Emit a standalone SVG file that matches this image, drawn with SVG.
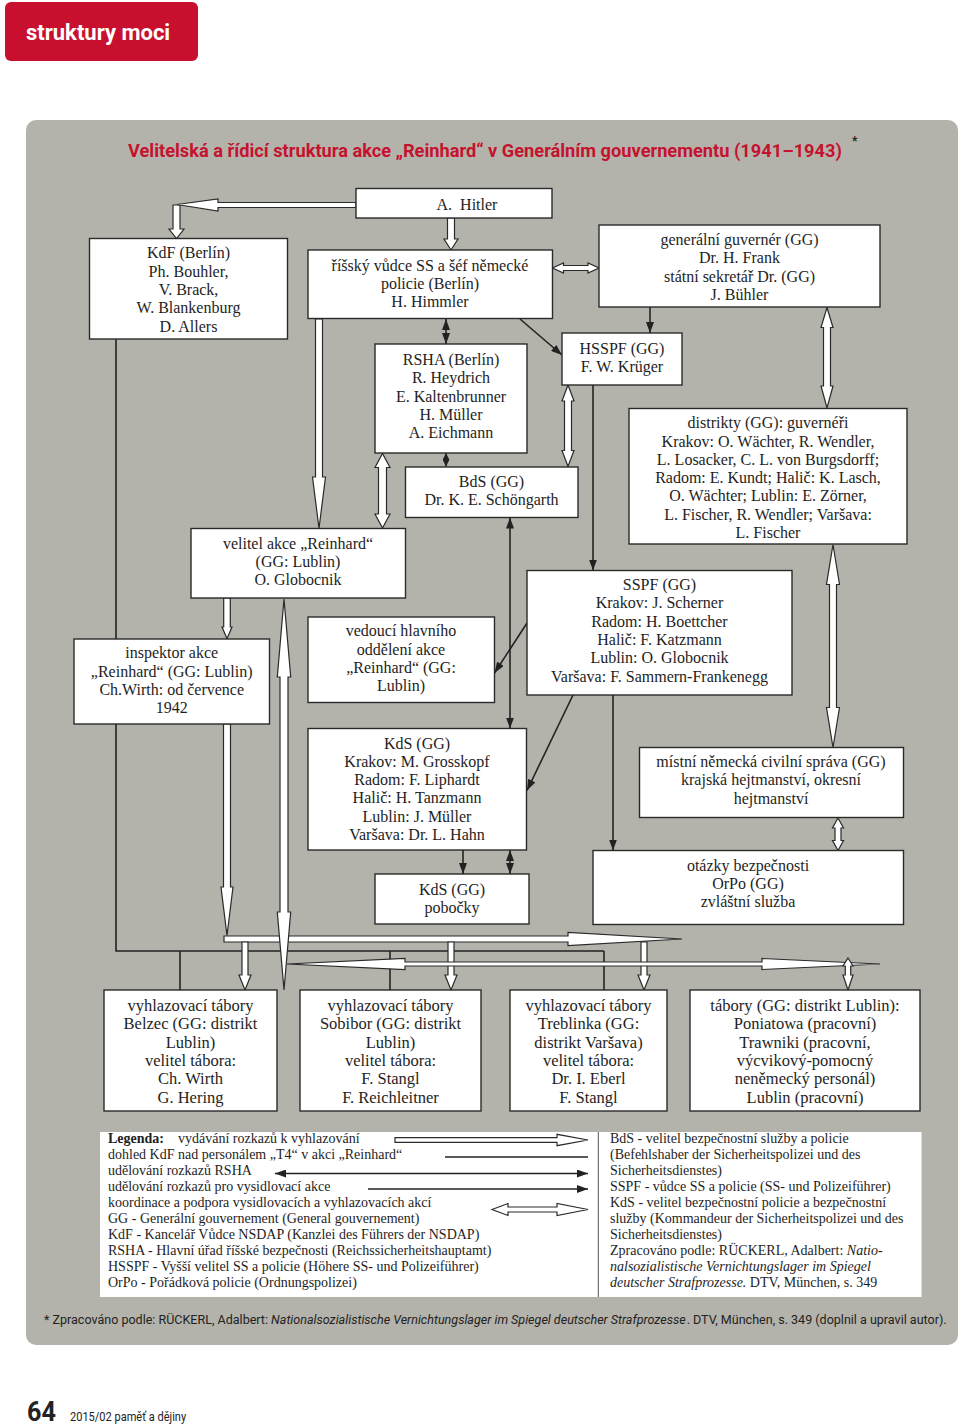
<svg xmlns="http://www.w3.org/2000/svg" width="960" height="1427" viewBox="0 0 960 1427">
<style>
.n rect{fill:#fff;stroke:#2a2a2a;stroke-width:1.4}
.t{font-family:"Liberation Serif","Times New Roman",serif;font-size:16px;fill:#1e1e1e;text-anchor:middle}
.c{font-family:"Liberation Serif","Times New Roman",serif;font-size:16.5px;fill:#1e1e1e;text-anchor:middle}
.g{font-family:"Liberation Serif","Times New Roman",serif;font-size:14px;fill:#1e1e1e}
.h{fill:#fff;stroke:#2a2a2a;stroke-width:1.2;stroke-linejoin:miter}
.l{stroke:#222;stroke-width:1.6;fill:none}
.s{font-family:Roboto,"Liberation Sans",sans-serif}
</style>
<defs>
<marker id="fa" viewBox="0 0 11 8" refX="11" refY="4" markerWidth="11" markerHeight="8" markerUnits="userSpaceOnUse" orient="auto-start-reverse"><path d="M0,0 L11,4 L0,8 z" fill="#222"/></marker>
<marker id="fs" viewBox="0 0 7 7" refX="7" refY="3.5" markerWidth="7" markerHeight="7" markerUnits="userSpaceOnUse" orient="auto-start-reverse"><path d="M0,0 L7,3.5 L0,7 z" fill="#222"/></marker>
</defs>
<rect width="960" height="1427" fill="#fff"/>
<rect x="5" y="2" width="193" height="59" rx="6" fill="#c8102e"/>
<text x="26" y="40" class="s" font-size="22" font-weight="700" fill="#fff">struktury moci</text>
<rect x="26" y="120" width="932" height="1225" rx="10" fill="#b4b3ab"/>
<text transform="translate(128,157) scale(0.96,1)" class="s" font-size="19" font-weight="700" fill="#c4122f">Velitelská a řídicí struktura akce „Reinhard“ v Generálním gouvernementu (1941–1943)</text>
<text x="852" y="145" class="s" font-size="12" font-weight="700" fill="#222">*</text>

<g id="connectors">
<polyline class="l" points="116,339 116,951 604,951"/>
<line class="l" x1="180" y1="951" x2="180" y2="990"/>
<line class="l" x1="390" y1="951" x2="390" y2="990"/>
<line class="l" x1="604" y1="951" x2="604" y2="990"/>
<line class="l" x1="446" y1="319" x2="446" y2="344" marker-start="url(#fa)" marker-end="url(#fa)"/>
<line class="l" x1="446" y1="453" x2="446" y2="466.5" marker-start="url(#fs)" marker-end="url(#fs)"/>
<line class="l" x1="520" y1="319" x2="562" y2="355" marker-end="url(#fa)"/>
<line class="l" x1="650" y1="307" x2="650" y2="333" marker-end="url(#fa)"/>
<line class="l" x1="593" y1="385" x2="593" y2="570.5" marker-end="url(#fa)"/>
<line class="l" x1="510" y1="517.5" x2="510" y2="728.5" marker-start="url(#fa)" marker-end="url(#fa)"/>
<line class="l" x1="463" y1="850" x2="463" y2="874" marker-end="url(#fa)"/>
<line class="l" x1="510" y1="850" x2="510" y2="874" marker-start="url(#fa)" marker-end="url(#fa)"/>
<line class="l" x1="527" y1="623" x2="494.5" y2="673" marker-end="url(#fa)"/>
<line class="l" x1="573" y1="695" x2="527" y2="790.5" marker-end="url(#fa)"/>
<line class="l" x1="613" y1="695" x2="613" y2="850.5" marker-end="url(#fa)"/>
<polygon class="h" points="173,205 180,205 180,229 184,229 176.5,238.5 169,229 173,229"/>
<polygon class="h" points="356,202.5 218,202.5 218,199 177,204.5 218,211 218,207.5 356,207.5"/>
<polygon class="h" points="447.5,218 454.5,218 454.5,239 458,239 451,250 444,239 447.5,239"/>
<polygon class="h" points="315.5,319 322.5,319 322.5,477 325.5,477 319,528.5 312.5,477 315.5,477"/>
<polygon class="h" points="382.5,453.5 390,467.5 386.5,467.5 386.5,514 390,514 382.5,528 375,514 378.5,514 378.5,467.5 375,467.5"/>
<polygon class="h" points="552.5,268 563.5,263 563.5,265.5 588,265.5 588,263 599,268 588,273 588,270.5 563.5,270.5 563.5,273"/>
<polygon class="h" points="827,307.5 833,327.5 830.5,327.5 830.5,386 833,386 827,408 821,386 823.5,386 823.5,327.5 821,327.5"/>
<polygon class="h" points="568,385 574,401 571.5,401 571.5,450.5 574,450.5 568,466.5 562,450.5 564.5,450.5 564.5,401 562,401"/>
<polygon class="h" points="833,544.5 839.5,584.5 836.5,584.5 836.5,707.5 839.5,707.5 833,747.5 826.5,707.5 829.5,707.5 829.5,584.5 826.5,584.5"/>
<polygon class="h" points="838,818 843.5,828 841,828 841,840.5 843.5,840.5 838,850.5 832.5,840.5 835,840.5 835,828 832.5,828"/>
<polygon class="h" points="223.7,598 230.3,598 230.3,627 232,627 227,638.5 222,627 223.7,627"/>
<polygon class="h" points="224,936 568,936 568,932.5 682,939 568,945.5 568,942 224,942"/>
<polygon class="h" points="223.5,724 230.5,724 230.5,887 233,887 227,935.5 221,887 223.5,887"/>
<polygon class="h" points="242,942 248,942 248,975 251,975 245,990 239,975 242,975"/>
<polygon class="h" points="448,942 454,942 454,975 457,975 451,990 445,975 448,975"/>
<polygon class="h" points="641,942 647,942 647,975 650,975 644,990 638,975 641,975"/>
<polygon class="h" points="284,599 290.7,677 288,677 288,912 290.7,912 284,990 277.3,912 280,912 280,677 277.3,677"/>
<polygon class="h" points="287,964 405,958.5 405,962 762,962 762,958.5 880,964 762,969.5 762,966 405,966 405,969.5"/>
<polygon class="h" points="848,958 853,966 850.7,966 850.7,975 853,975 848,990 843,975 845.3,975 845.3,966 843,966"/>
</g>

<g id="hitler" class="n"><rect x="356" y="188.5" width="196" height="29.5"/><text class="t" x="467" y="209.5">A.&#160; Hitler</text></g>
<g id="kdf" class="n"><rect x="89.5" y="238.5" width="198" height="100.5"/><text class="t" x="188.5" y="258.3">KdF (Berlín)</text><text class="t" x="188.5" y="276.7">Ph. Bouhler,</text><text class="t" x="188.5" y="295">V. Brack,</text><text class="t" x="188.5" y="313.3">W. Blankenburg</text><text class="t" x="188.5" y="331.7">D. Allers</text></g>
<g id="himmler" class="n"><rect x="308" y="250" width="244.5" height="68.5"/><text class="t" x="430" y="270.7">říšský vůdce SS a šéf německé</text><text class="t" x="430" y="289">policie (Berlín)</text><text class="t" x="430" y="307.3">H. Himmler</text></g>
<g id="gg" class="n"><rect x="599" y="225" width="281" height="82"/><text class="t" x="739.5" y="245">generální guvernér (GG)</text><text class="t" x="739.5" y="263.3">Dr. H. Frank</text><text class="t" x="739.5" y="281.7">státní sekretář Dr. (GG)</text><text class="t" x="739.5" y="299.7">J. Bühler</text></g>
<g id="rsha" class="n"><rect x="375" y="344" width="152" height="109"/><text class="t" x="451" y="365">RSHA (Berlín)</text><text class="t" x="451" y="383.3">R. Heydrich</text><text class="t" x="451" y="401.7">E. Kaltenbrunner</text><text class="t" x="451" y="420">H. Müller</text><text class="t" x="451" y="438">A. Eichmann</text></g>
<g id="hsspf" class="n"><rect x="562" y="333" width="120" height="52"/><text class="t" x="622" y="354">HSSPF (GG)</text><text class="t" x="622" y="372">F. W. Krüger</text></g>
<g id="bds" class="n"><rect x="405.5" y="467" width="172.5" height="50.5"/><text class="t" x="491.5" y="487">BdS (GG)</text><text class="t" x="491.5" y="505">Dr. K. E. Schöngarth</text></g>
<g id="distrikty" class="n"><rect x="629" y="408.5" width="278" height="135.5"/><text class="t" x="768" y="428.3">distrikty (GG): guvernéři</text><text class="t" x="768" y="446.7">Krakov: O. Wächter, R. Wendler,</text><text class="t" x="768" y="465">L. Losacker, C. L. von Burgsdorff;</text><text class="t" x="768" y="483.3">Radom: E. Kundt; Halič: K. Lasch,</text><text class="t" x="768" y="501.3">O. Wächter; Lublin: E. Zörner,</text><text class="t" x="768" y="519.5">L. Fischer, R. Wendler; Varšava:</text><text class="t" x="768" y="537.5">L. Fischer</text></g>
<g id="velitel" class="n"><rect x="191" y="528.5" width="214.5" height="69.5"/><text class="t" x="298" y="548.5">velitel akce „Reinhard“</text><text class="t" x="298" y="566.8">(GG: Lublin)</text><text class="t" x="298" y="585">O. Globocnik</text></g>
<g id="sspf" class="n"><rect x="527" y="570.5" width="265" height="124.5"/><text class="t" x="659.5" y="590">SSPF (GG)</text><text class="t" x="659.5" y="608.3">Krakov: J. Scherner</text><text class="t" x="659.5" y="626.7">Radom: H. Boettcher</text><text class="t" x="659.5" y="645">Halič: F. Katzmann</text><text class="t" x="659.5" y="663.3">Lublin: O. Globocnik</text><text class="t" x="659.5" y="681.7">Varšava: F. Sammern-Frankenegg</text></g>
<g id="inspektor" class="n"><rect x="74" y="639" width="195.5" height="85"/><text class="t" x="171.7" y="658.3">inspektor akce</text><text class="t" x="171.7" y="676.7">„Reinhard“ (GG: Lublin)</text><text class="t" x="171.7" y="695">Ch.Wirth: od července</text><text class="t" x="171.7" y="713">1942</text></g>
<g id="vedouci" class="n"><rect x="308" y="617" width="186.5" height="85.5"/><text class="t" x="401" y="636.3">vedoucí hlavního</text><text class="t" x="401" y="654.5">oddělení akce</text><text class="t" x="401" y="672.8">„Reinhard“ (GG:</text><text class="t" x="401" y="691">Lublin)</text></g>
<g id="kds" class="n"><rect x="308" y="728.5" width="218.5" height="121.5"/><text class="t" x="417" y="748.5">KdS (GG)</text><text class="t" x="417" y="766.8">Krakov: M. Grosskopf</text><text class="t" x="417" y="785">Radom: F. Liphardt</text><text class="t" x="417" y="803.3">Halič: H. Tanzmann</text><text class="t" x="417" y="821.7">Lublin: J. Müller</text><text class="t" x="417" y="840">Varšava: Dr. L. Hahn</text></g>
<g id="mistni" class="n"><rect x="639.5" y="747.5" width="264" height="70"/><text class="t" x="771" y="767">místní německá civilní správa (GG)</text><text class="t" x="771" y="785.2">krajská hejtmanství, okresní</text><text class="t" x="771" y="803.5">hejtmanství</text></g>
<g id="pobocky" class="n"><rect x="375" y="874" width="154" height="50"/><text class="t" x="452" y="895">KdS (GG)</text><text class="t" x="452" y="913.3">pobočky</text></g>
<g id="otazky" class="n"><rect x="593" y="850.5" width="310.5" height="74"/><text class="t" x="748" y="870.7">otázky bezpečnosti</text><text class="t" x="748" y="889">OrPo (GG)</text><text class="t" x="748" y="907">zvláštní služba</text></g>
<g id="belzec" class="n"><rect x="104" y="990" width="173" height="121"/><text class="c" x="190.5" y="1011">vyhlazovací tábory</text><text class="c" x="190.5" y="1029.3">Belzec (GG: distrikt</text><text class="c" x="190.5" y="1047.6">Lublin)</text><text class="c" x="190.5" y="1065.9">velitel tábora:</text><text class="c" x="190.5" y="1084.2">Ch. Wirth</text><text class="c" x="190.5" y="1102.5">G. Hering</text></g>
<g id="sobibor" class="n"><rect x="300" y="990" width="181" height="121"/><text class="c" x="390.5" y="1011">vyhlazovací tábory</text><text class="c" x="390.5" y="1029.3">Sobibor (GG: distrikt</text><text class="c" x="390.5" y="1047.6">Lublin)</text><text class="c" x="390.5" y="1065.9">velitel tábora:</text><text class="c" x="390.5" y="1084.2">F. Stangl</text><text class="c" x="390.5" y="1102.5">F. Reichleitner</text></g>
<g id="treblinka" class="n"><rect x="510" y="990" width="157" height="121"/><text class="c" x="588.5" y="1011">vyhlazovací tábory</text><text class="c" x="588.5" y="1029.3">Treblinka (GG:</text><text class="c" x="588.5" y="1047.6">distrikt Varšava)</text><text class="c" x="588.5" y="1065.9">velitel tábora:</text><text class="c" x="588.5" y="1084.2">Dr. I. Eberl</text><text class="c" x="588.5" y="1102.5">F. Stangl</text></g>
<g id="tabory" class="n"><rect x="690" y="990" width="230" height="121"/><text class="c" x="805" y="1011">tábory (GG: distrikt Lublin):</text><text class="c" x="805" y="1029.3">Poniatowa (pracovní)</text><text class="c" x="805" y="1047.6">Trawniki (pracovní,</text><text class="c" x="805" y="1065.9">výcvikový-pomocný</text><text class="c" x="805" y="1084.2">neněmecký personál)</text><text class="c" x="805" y="1102.5">Lublin (pracovní)</text></g>

<g id="legend">
<rect x="100" y="1132" width="821.5" height="165" fill="#fff"/>
<line x1="598.3" y1="1132" x2="598.3" y2="1297" stroke="#555" stroke-width="1"/>
<polygon class="h" points="395,1137.7 557,1137.7 557,1134.3 588,1140 557,1145.7 557,1142.3 395,1142.3"/>
<line class="l" x1="445" y1="1157" x2="588" y2="1157"/>
<line class="l" x1="275" y1="1173.5" x2="588" y2="1173.5" marker-start="url(#fa)" marker-end="url(#fa)"/>
<line class="l" x1="368" y1="1189" x2="588" y2="1189" marker-end="url(#fa)"/>
<polygon class="h" points="492,1209.5 508,1203.5 508,1207 557,1207 557,1203.5 588,1209.5 557,1215.5 557,1212 508,1212 508,1215.5"/>
<text class="g" x="108" y="1143.3" font-weight="700" font-size="15">Legenda:</text>
<text class="g" x="178" y="1143.3">vydávání rozkazů k vyhlazování</text>
<text class="g" x="108" y="1159.3">dohled KdF nad personálem „T4“ v akci „Reinhard“</text>
<text class="g" x="108" y="1175.2">udělování rozkazů RSHA</text>
<text class="g" x="108" y="1191">udělování rozkazů pro vysidlovací akce</text>
<text class="g" x="108" y="1207">koordinace a podpora vysidlovacích a vyhlazovacích akcí</text>
<text class="g" x="108" y="1223">GG - Generální gouvernement (General gouvernement)</text>
<text class="g" x="108" y="1238.7">KdF - Kancelář Vůdce NSDAP (Kanzlei des Führers der NSDAP)</text>
<text class="g" x="108" y="1254.5">RSHA - Hlavní úřad říšské bezpečnosti (Reichssicherheitshauptamt)</text>
<text class="g" x="108" y="1270.5">HSSPF - Vyšší velitel SS a policie (Höhere SS- und Polizeiführer)</text>
<text class="g" x="108" y="1286.5">OrPo - Pořádková policie (Ordnungspolizei)</text>
<text class="g" x="610" y="1143.3">BdS - velitel bezpečnostní služby a policie</text>
<text class="g" x="610" y="1159.3">(Befehlshaber der Sicherheitspolizei und des</text>
<text class="g" x="610" y="1175.2">Sicherheitsdienstes)</text>
<text class="g" x="610" y="1191">SSPF - vůdce SS a policie (SS- und Polizeiführer)</text>
<text class="g" x="610" y="1207">KdS - velitel bezpečnostní policie a bezpečnostní</text>
<text class="g" x="610" y="1223">služby (Kommandeur der Sicherheitspolizei und des</text>
<text class="g" x="610" y="1238.7">Sicherheitsdienstes)</text>
<text class="g" x="610" y="1254.5">Zpracováno podle: RÜCKERL, Adalbert: <tspan font-style="italic">Natio-</tspan></text>
<text class="g" x="610" y="1270.5" font-style="italic">nalsozialistische Vernichtungslager im Spiegel</text>
<text class="g" x="610" y="1286.5"><tspan font-style="italic">deutscher Strafprozesse.</tspan> DTV, München, s. 349</text>
</g>

<text transform="translate(44,1324) scale(0.929,1)" class="s" font-size="13.5" fill="#222">* Zpracováno podle: RÜCKERL, Adalbert: <tspan font-style="italic">Nationalsozialistische Vernichtungslager im Spiegel deutscher Strafprozesse</tspan><tspan dx="1">. DTV, München, s. 349 (doplnil a upravil autor).</tspan></text>
<text transform="translate(27,1421) scale(0.9,1)" class="s" font-size="28" font-weight="700" fill="#222">64</text>
<text transform="translate(70,1421) scale(0.92,1)" class="s" font-size="12" fill="#222">2015/02 paměť a dějiny</text>
</svg>
